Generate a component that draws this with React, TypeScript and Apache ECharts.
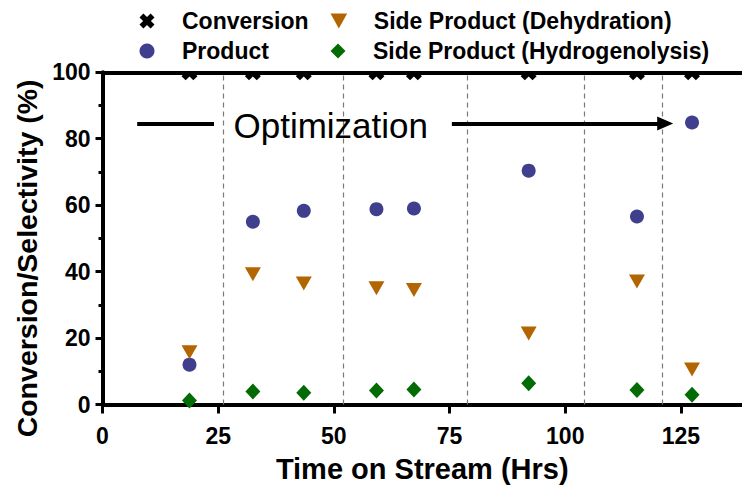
import React, { useEffect, useRef } from "react";
import * as echarts from "echarts";

const timeHrs = [18.8, 32.5, 43.5, 59.2, 67.3, 92.1, 115.5, 127.4];
const conversion = [100, 100, 100, 100, 100, 100, 100, 100];
const product = [12, 55, 58.3, 58.8, 59, 70.4, 56.6, 84.9];
const dehydration = [15.7, 39.2, 36.4, 35, 34.5, 21.4, 37, 10.5];
const hydrogenolysis = [1.2, 3.9, 3.5, 4.2, 4.5, 6.4, 4.4, 2.9];
const separators = [26, 52.1, 78.8, 104.2, 120.9];
const xTicks = [0, 25, 50, 75, 100, 125];
const seriesNames = [
  "Conversion",
  "Product",
  "Side Product (Dehydration)",
  "Side Product (Hydrogenolysis)",
];
const arrowY = 84.6;
const arrowLeft = [7.5, 24.1];
const arrowRight = [75.5, 121.6];
const labelX = 28.2;

const FONT = "'Liberation Sans', Arial, Helvetica, sans-serif";
const X_FULL =
  "path://M0,2.6 L2.6,0 L5,2.4 L7.4,0 L10,2.6 L7.6,5 L10,7.4 L7.4,10 L5,7.6 L2.6,10 L0,7.4 L2.4,5 Z";
// lower half of the cross: the upper half is hidden behind the top frame of the plot
const X_LOWER = "path://M2.4,5 L7.6,5 L10,7.4 L7.4,10 L5,7.6 L2.6,10 L0,7.4 Z";
const TRI_DOWN = "path://M0,0 L10,0 L5,9 Z";
const DIAMOND = "path://M5,0 L10,5 L5,10 L0,5 Z";
const DOT = "circle";

const COLORS = ["#000000", "#403f8e", "#b26500", "#036b03"];

const pair = (ys: number[]) => timeHrs.map((x, i) => [x, ys[i]]);

export default function App() {
  const ref = useRef<HTMLDivElement>(null);
  useEffect(() => {
    if (!ref.current) return;
    const chart = echarts.init(ref.current, undefined, { renderer: "svg" });
    const legendBase = {
      orient: "vertical",
      padding: 0,
      itemWidth: 60,
      itemHeight: 15,
      textStyle: { fontFamily: FONT, fontWeight: "bold", fontSize: 23, color: "#000" },
      selectedMode: false,
    };
    chart.setOption({
      animation: false,
      backgroundColor: "#fff",
      textStyle: { fontFamily: FONT },
      legend: [
        { ...legendBase, data: [{ name: seriesNames[0], icon: X_FULL }], left: 139.5, top: 9.5 },
        { ...legendBase, data: [{ name: seriesNames[1], icon: DOT }], left: 139.5, top: 39.5 },
        { ...legendBase, data: [{ name: seriesNames[2], icon: TRI_DOWN }], left: 330.5, top: 9.5 },
        { ...legendBase, data: [{ name: seriesNames[3], icon: DIAMOND }], left: 330.5, top: 39.5 },
      ],
      grid: { left: 102.5, right: 0, top: 72.3, bottom: 85.5, containLabel: false },
      xAxis: [
        {
          type: "value",
          min: 0,
          max: 138.2,
          interval: 25,
          name: "Time on Stream (Hrs)",
          nameLocation: "middle",
          nameGap: 50,
          nameTextStyle: { fontFamily: FONT, fontWeight: "bold", fontSize: 29, color: "#000" },
          axisLine: { lineStyle: { color: "#000", width: 4 } },
          axisTick: { customValues: xTicks, length: 9, lineStyle: { color: "#000", width: 3 } },
          axisLabel: {
            customValues: xTicks,
            margin: 20,
            fontFamily: FONT,
            fontWeight: "bold",
            fontSize: 23,
            color: "#000",
          },
          splitLine: { show: false },
        },
        {
          type: "value",
          position: "top",
          min: 0,
          max: 138.2,
          axisLine: { show: true, onZero: false, lineStyle: { color: "#000", width: 4 } },
          axisTick: { show: false },
          axisLabel: { show: false },
          splitLine: { show: false },
        },
      ],
      yAxis: {
        type: "value",
        min: 0,
        max: 100,
        interval: 20,
        name: "Conversion/Selectivity (%)",
        nameLocation: "middle",
        nameGap: 57,
        nameTextStyle: {
          fontFamily: FONT,
          fontWeight: "bold",
          fontSize: 28.5,
          color: "#000",
          padding: [0, 40, 0, 0],
        },
        axisLine: { show: true, lineStyle: { color: "#000", width: 4 } },
        axisTick: { show: true, length: 7, lineStyle: { color: "#000", width: 3 } },
        minorTick: { show: true, splitNumber: 2, length: 4, lineStyle: { color: "#000", width: 3 } },
        axisLabel: { margin: 12, fontFamily: FONT, fontWeight: "bold", fontSize: 23, color: "#000" },
        splitLine: { show: false },
      },
      series: [
        {
          name: "annotations",
          type: "scatter",
          data: [],
          z: 1,
          markLine: {
            silent: true,
            z: 1,
            label: { show: false },
            symbol: ["none", "none"],
            data: [
              ...separators.map((v) => ({
                xAxis: v,
                lineStyle: { type: [5, 4], color: "#7a7a7a", width: 1.2 },
              })),
              [
                { coord: [arrowLeft[0], arrowY], symbol: "none", lineStyle: { type: "solid", color: "#000", width: 4 } },
                { coord: [arrowLeft[1], arrowY], symbol: "none" },
              ],
              [
                { coord: [arrowRight[0], arrowY], symbol: "none", lineStyle: { type: "solid", color: "#000", width: 4 } },
                { coord: [arrowRight[1], arrowY], symbol: "triangle", symbolSize: [14, 16] },
              ],
            ],
          },
          markPoint: {
            silent: true,
            data: [
              {
                coord: [labelX, arrowY],
                symbol: "circle",
                symbolSize: 1,
                itemStyle: { color: "rgba(0,0,0,0)" },
                label: {
                  show: true,
                  position: "right",
                  distance: 0,
                  offset: [0, 2],
                  formatter: "Optimization",
                  fontFamily: FONT,
                  fontSize: 35,
                  color: "#000",
                },
              },
            ],
          },
        },
        {
          name: seriesNames[0],
          type: "scatter",
          data: pair(conversion),
          symbol: X_LOWER,
          symbolSize: [16, 8],
          symbolOffset: [0, 4],
          itemStyle: { color: COLORS[0], opacity: 1 },
          z: 3,
        },
        {
          name: seriesNames[1],
          type: "scatter",
          data: pair(product),
          symbol: DOT,
          symbolSize: 14,
          itemStyle: { color: COLORS[1], opacity: 1 },
          z: 3,
        },
        {
          name: seriesNames[2],
          type: "scatter",
          data: pair(dehydration),
          symbol: TRI_DOWN,
          symbolSize: [16, 14],
          itemStyle: { color: COLORS[2], opacity: 1 },
          z: 3,
        },
        {
          name: seriesNames[3],
          type: "scatter",
          data: pair(hydrogenolysis),
          symbol: DIAMOND,
          symbolSize: [15, 16],
          itemStyle: { color: COLORS[3], opacity: 1 },
          z: 3,
        },
      ],
    });
    return () => chart.dispose();
  }, []);
  return (
    <div
      ref={ref}
      style={{ position: "fixed", left: 0, top: 0, width: 742, height: 490, background: "#fff" }}
    />
  );
}
